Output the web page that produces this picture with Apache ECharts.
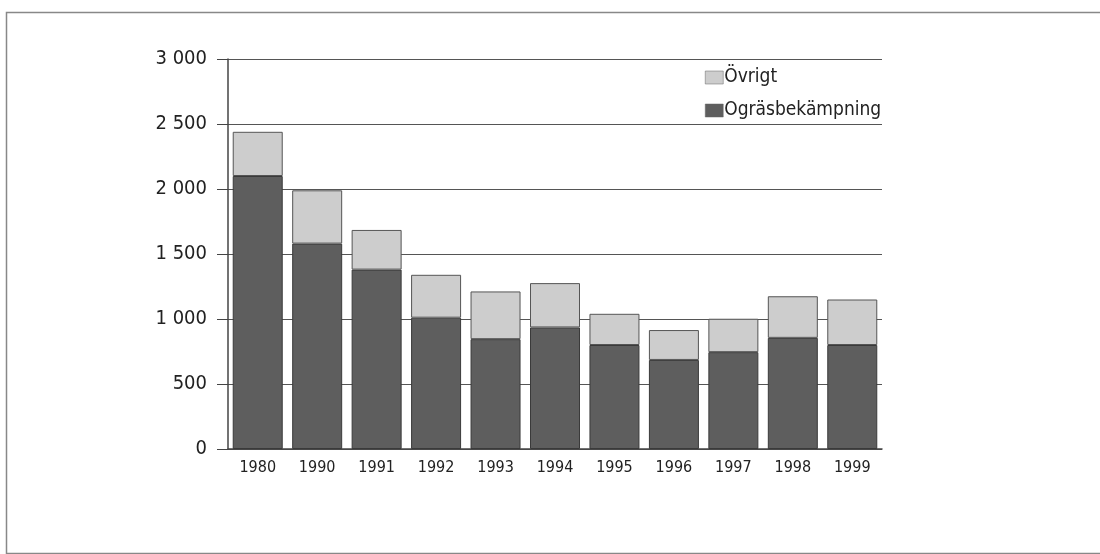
<!DOCTYPE html>
<html>
<head>
<meta charset="utf-8">
<script src="https://cdn.jsdelivr.net/npm/echarts@6/dist/echarts.min.js"></script>
<style>html,body{margin:0;padding:0;background:#fff}#c{width:1100px;height:554px}</style>
</head>
<body>
<div id="c"></div>
<script>
const years = ['1980','1990','1991','1992','1993','1994','1995','1996','1997','1998','1999'];
const ograsbekampning = [2100, 1580, 1380, 1010, 845, 935, 800, 685, 745, 855, 800];
const ovrigt = [340, 410, 305, 330, 367, 341, 240, 230, 257, 320, 350];
const seriesNames = ['Ogräsbekämpning', 'Övrigt'];
const yTicks = [0, 500, 1000, 1500, 2000, 2500, 3000];

const font = "'DejaVu Sans Condensed', 'Liberation Sans', sans-serif";
const chart = echarts.init(document.getElementById('c'));
chart.setOption({
  backgroundColor: '#fff',
  animation: false,
  graphic: [{
    type: 'rect', left: 4, top: 10,
    shape: { width: 1110, height: 541 },
    style: { fill: 'none', stroke: '#888', lineWidth: 1.5 }
  }],
  grid: { left: 228, right: 218, top: 59, bottom: 105 },
  legend: {
    data: ['Övrigt', 'Ogräsbekämpning'],
    orient: 'vertical', left: 700, top: 63,
    itemWidth: 18, itemHeight: 13, itemGap: 14,
    icon: 'rect',
    itemStyle: { borderWidth: 0.5, borderColor: '#666' },
    textStyle: { fontFamily: font, fontSize: 19, color: '#222', padding: [0, 0, 0, -4] }
  },
  xAxis: {
    type: 'category', data: years,
    axisLine: { lineStyle: { color: '#444', width: 1.5 } },
    axisTick: { show: false },
    axisLabel: { fontFamily: font, fontSize: 16, color: '#222', margin: 11 }
  },
  yAxis: {
    type: 'value', min: 0, max: 3000, interval: 500,
    axisLine: { show: true, lineStyle: { color: '#444', width: 1.5 } },
    axisTick: { show: true, length: 11, lineStyle: { color: '#444' } },
    splitLine: { lineStyle: { color: '#555', width: 1 } },
    axisLabel: {
      fontFamily: font, fontSize: 20, color: '#222', margin: 21,
      formatter: v => yTicks.includes(v) ? String(v).replace(/\B(?=(\d{3})+(?!\d))/g, ' ') : ''
    }
  },
  series: [
    {
      name: seriesNames[0], type: 'bar', stack: 'a', data: ograsbekampning,
      barWidth: 50,
      itemStyle: { color: '#5e5e5e', borderColor: '#3a3a3a', borderWidth: 1 }
    },
    {
      name: seriesNames[1], type: 'bar', stack: 'a', data: ovrigt,
      barWidth: 50,
      itemStyle: { color: '#cdcdcd', borderColor: '#555', borderWidth: 1 }
    }
  ]
});
</script>
</body>
</html>
